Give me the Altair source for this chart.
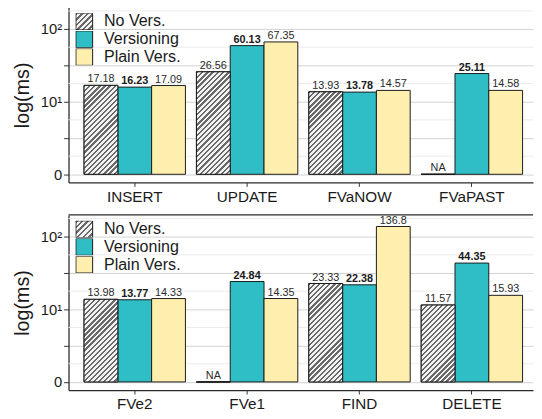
import math
import altair as alt
import pandas as pd

# ---------------- data ----------------
series = ["No Vers.", "Versioning", "Plain Vers."]

top_cats = ["INSERT", "UPDATE", "FVaNOW", "FVaPAST"]
top_nover = [17.18, 26.56, 13.93, None]
top_vers = [16.23, 60.13, 13.78, 25.11]
top_plain = [17.09, 67.35, 14.57, 14.58]

bot_cats = ["FVe2", "FVe1", "FIND", "DELETE"]
bot_nover = [13.98, None, 23.33, 11.57]
bot_vers = [13.77, 24.84, 22.38, 44.35]
bot_plain = [14.33, 14.35, 136.8, 15.93]

# ---------------- style ----------------
FONT = "Liberation Sans"
TEAL = "#30BEC6"
YELLOW = "#FFEFAE"
HATCH_BG = "#f3f3f3"
HATCH_FG = "#6a6a6a"
INK = "#1a1a1a"
FRAME = "#2b2b2b"

C = 1.25                      # symlog constant
YMIN, YMAX = -0.35, 194.5     # y domain
W, H = 472, 178               # plot area of each panel
P_IN, P_OUT, ALIGN = 0.098, 0.1156, 0.598
STEP = W / (4 - P_IN + 2 * P_OUT)
BW = STEP * (1 - P_IN) / 3


def tr(v):
    return math.copysign(math.log1p(abs(v) / C), v)


def px_height(v):
    return H * (tr(v) - tr(0)) / (tr(YMAX) - tr(YMIN))


def hatch(w, h, period=3.7, dark=0.45):
    h = max(h, 1.0)
    s = (w + h) / (w * w + h * h)
    n = max(1, round((w + h) / (math.sqrt(2) * period)))
    stops = []
    for i in range(n):
        a, b, c = i / n, (i + dark) / n, (i + 1) / n
        stops += [
            {"offset": a, "color": HATCH_FG},
            {"offset": b, "color": HATCH_FG},
            {"offset": b, "color": HATCH_BG},
            {"offset": c, "color": HATCH_BG},
        ]
    return {"gradient": "linear", "x1": 0, "y1": 0, "x2": s * w, "y2": s * h, "stops": stops}


def grad_expr(g):
    stops = ",".join("{offset:%.5f,color:'%s'}" % (s["offset"], s["color"]) for s in g["stops"])
    return ("{gradient:'linear',x1:%g,y1:%g,x2:%.5f,y2:%.5f,stops:[%s]}"
            % (g["x1"], g["y1"], g["x2"], g["y2"], stops))


LEGEND_GRAD = grad_expr(hatch(17, 17))
MAJOR = [0, C * (9 ** 0.5 - 1), 10, C * (9 ** 1.5 - 1), 100]
MINOR = [C * (9 ** (k / 4) - 1) for k in (1, 3, 5, 7, 9)]


def panel(cats, nover, vers, plain):
    rows = []
    for i, c in enumerate(cats):
        for s, vals in zip(series, (nover, vers, plain)):
            v = vals[i]
            rows.append({
                "cat": c,
                "series": s,
                "value": 0.0 if v is None else v,
                "label": "NA" if v is None else f"{v:g}",
            })
    df = pd.DataFrame(rows)
    hdf = df[df["series"] == "No Vers."].copy()
    hdf["grad"] = [hatch(BW, px_height(v)) for v in hdf["value"]]

    yscale = alt.Scale(type="symlog", constant=C, domain=[YMIN, YMAX], nice=False, zero=False)
    yaxis = alt.Axis(values=MAJOR,
                     labelExpr="datum.value == 0 ? '0' : datum.value == 10 ? '10¹' : datum.value == 100 ? '10²' : ''",
                     labelFontSize=15, labelColor=INK, tickColor="#333333",
                     tickSize=5, labelPadding=2, titleFontSize=20,
                     titleFontWeight="normal", titleColor=INK, titlePadding=8,
                     gridColor="#d2d2d2", gridWidth=1,
                     domain=True, domainColor=FRAME, domainWidth=1.3)
    x = alt.X("cat:N", sort=cats, title=None,
              scale=alt.Scale(paddingInner=P_IN, paddingOuter=P_OUT, align=ALIGN),
              axis=alt.Axis(labelAngle=0, labelFontSize=15.5, labelColor=INK,
                            tickColor="#333333", tickSize=4, labelPadding=3,
                            domain=True, domainColor=FRAME, domainWidth=1.3, grid=False))
    xo = alt.XOffset("series:N", sort=series,
                     scale=alt.Scale(domain=series, paddingInner=0, paddingOuter=0))
    y = alt.Y("value:Q", scale=yscale, title="log(ms)", axis=yaxis)

    minor = alt.Chart(pd.DataFrame({"v": MINOR})).mark_rule(
        color="#ececec", strokeWidth=1).encode(
        y=alt.Y("v:Q", scale=yscale, title="log(ms)", axis=yaxis))

    topline = alt.Chart(pd.DataFrame({"v": [YMAX]})).mark_rule(
        color=FRAME, strokeWidth=1.3).encode(
        y=alt.Y("v:Q", scale=yscale, title="log(ms)", axis=yaxis))

    legend = alt.Legend(
        title=None, orient="none", legendX=7, legendY=6, padding=0,
        symbolType="square", symbolSize=289, symbolStrokeColor=INK,
        symbolStrokeWidth=1, symbolOpacity=1, rowPadding=1, clipHeight=17,
        labelFontSize=16.3, labelColor=INK, labelOffset=11, labelFont=FONT,
    )

    bars = alt.Chart(df).mark_bar(stroke=INK, strokeWidth=1, fillOpacity=1).encode(
        x=x, xOffset=xo, y=y, y2=alt.datum(0),
        fill=alt.Fill("series:N",
                      scale=alt.Scale(domain=series,
                                      range=[alt.ExprRef(expr=LEGEND_GRAD), TEAL, YELLOW]),
                      legend=legend),
    )
    hatched = alt.Chart(hdf).mark_bar(stroke=INK, strokeWidth=1).encode(
        x=x, xOffset=xo, y=y, y2=alt.datum(0),
        fill=alt.Fill("grad:N", scale=None),
    )
    txt = alt.Chart(df).mark_text(baseline="bottom", dy=-1, fontSize=11, color="#2a2a2a",
                                   font=FONT).encode(
        x=x, xOffset=xo, y=y, text="label:N").transform_filter("datum.series != 'Versioning'")
    txtb = alt.Chart(df).mark_text(baseline="bottom", dy=-1, fontSize=11, color=INK,
                                    fontWeight="bold", font=FONT).encode(
        x=x, xOffset=xo, y=y, text="label:N").transform_filter("datum.series == 'Versioning'")

    return alt.layer(minor, bars, hatched, txt, txtb, topline).properties(width=W, height=H)


top = panel(top_cats, top_nover, top_vers, top_plain)
bot = panel(bot_cats, bot_nover, bot_vers, bot_plain)

chart = alt.vconcat(top, bot, spacing=9).resolve_scale(
    fill="independent", x="independent", y="independent"
).resolve_legend(fill="independent").properties(
    padding={"left": 4.5, "top": -5, "right": 0, "bottom": -3}
).configure(font=FONT).configure_view(stroke=None)

chart.save("out.html", embed_options={"renderer": "svg", "actions": False})
